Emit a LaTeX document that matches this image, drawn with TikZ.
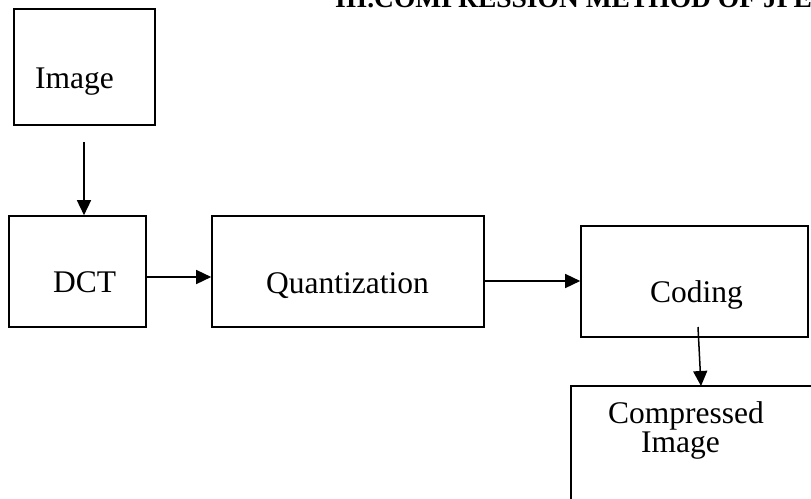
\documentclass[tikz,border=0pt]{standalone}
\usepackage{fontspec}
\setmainfont{Liberation Serif}
\usetikzlibrary{arrows.meta}
\begin{document}
\begin{tikzpicture}[x=1pt,y=-1pt,
  box/.style={draw,line width=1.6pt,rectangle,inner sep=0pt},
  lbl/.style={anchor=base west,inner sep=0pt,font=\fontsize{31.5}{36}\selectfont},
  arr/.style={line width=1.5pt,-{Triangle[length=15pt,width=14pt]}}]
\useasboundingbox (0,0) rectangle (811,498);
\clip (0,0) rectangle (811,498);
\fill[white] (0,0) rectangle (811,498);
% title (cropped at top)
\node[anchor=base west,inner sep=0pt,font=\fontsize{27.5}{30}\selectfont\bfseries] (title) at (335,7) {III.COMPRESSION METHOD OF JPE};
% boxes
\node[box,minimum width=141pt,minimum height=116pt] (img) at (84.5,67) {};
\node[box,minimum width=137pt,minimum height=111pt] (dct) at (77.5,271.5) {};
\node[box,minimum width=272pt,minimum height=111pt] (quant) at (348,271.5) {};
\node[box,minimum width=227pt,minimum height=111pt] (coding) at (694.5,281.5) {};
\node[box,minimum width=270pt,minimum height=140pt] (comp) at (706,456) {};
% labels
\node[lbl] (timg) at (35,88) {Image};
\node[lbl] (tdct) at (53,292) {DCT};
\node[lbl] (tquant) at (266,293) {Quantization};
\node[lbl] (tcoding) at (650,302) {Coding};
\node[lbl] (tcomp) at (608,423) {Compressed};
\node[lbl] (tcomp2) at (641,452) {Image};
% connectors
\coordinate (a1) at (84,142);
\draw[arr] (a1) -- (a1 |- dct.north);
\draw[arr] (dct.east |- 0,277) -- (quant.west |- 0,277);
\draw[arr] (quant.east |- 0,281) -- (coding.west |- 0,281);
\coordinate (a4) at (698,327);
\draw[arr] (a4) -- (701,386);
\end{tikzpicture}
\end{document}
